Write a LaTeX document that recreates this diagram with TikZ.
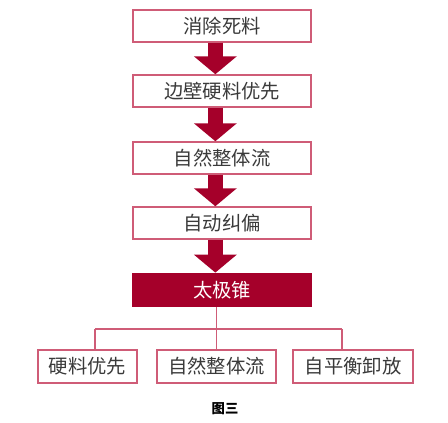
\documentclass[tikz,border=0pt]{standalone}
\usepackage{fontspec}
\setmainfont{Noto Sans CJK SC}
\usetikzlibrary{arrows.meta}
\definecolor{darkred}{HTML}{A5002A}
\definecolor{edgered}{HTML}{CF5C77}
\definecolor{textgray}{HTML}{3A3A3A}
\tikzset{
  stepbox/.style={draw=edgered, line width=1.1pt, fill=white, text=textgray,
    minimum width=133.5pt, minimum height=24pt, inner sep=0pt,
    font=\fontsize{14.5}{16}\selectfont},
  mainbox/.style={stepbox, draw=darkred, fill=darkred, text=white, minimum height=25pt},
  leafbox/.style={stepbox, minimum height=24.5pt},
  bigarrow/.style={draw=darkred, line width=11pt,
    -{Triangle[width=31.5pt, length=13.5pt]}},
  tree/.style={draw=edgered, line width=1.1pt}
}
\begin{document}
\begin{tikzpicture}[x=0.75pt, y=-0.75pt]
\useasboundingbox (0,0) rectangle (448,422);
\node[stepbox] (b1) at (222,26) {消除死料};
\node[stepbox] (b2) at (222,91) {边壁硬料优先};
\node[stepbox] (b3) at (222,158) {自然整体流};
\node[stepbox] (b4) at (222,223) {自动纠偏};
\node[mainbox] (b5) at (222,290) {太极锥};
\foreach \a/\b in {b1/b2, b2/b3, b3/b4, b4/b5}
{
	\draw[bigarrow] ([xshift=-5pt]\a.south) -- ([xshift=-5pt]\b.north);
}
\node[leafbox, minimum width=74pt] (l1) at (87.5,366.5) {硬料优先};
\node[leafbox, minimum width=89pt] (l2) at (216.5,366.5) {自然整体流};
\node[leafbox, minimum width=90pt] (l3) at (353,366.5) {自平衡卸放};
\coordinate (j1) at (95,329);
\coordinate (j3) at (342,329);
\draw[tree] (b5.south -| l2) -- (l2.north);
\draw[tree] (j1) -- (j3);
\draw[tree] (j1) -- (j1 |- l1.north);
\draw[tree] (j3) -- (j3 |- l3.north);
\node[font=\bfseries\fontsize{10}{11}\selectfont] (cap) at (225,409) {图三};
\end{tikzpicture}
\end{document}
